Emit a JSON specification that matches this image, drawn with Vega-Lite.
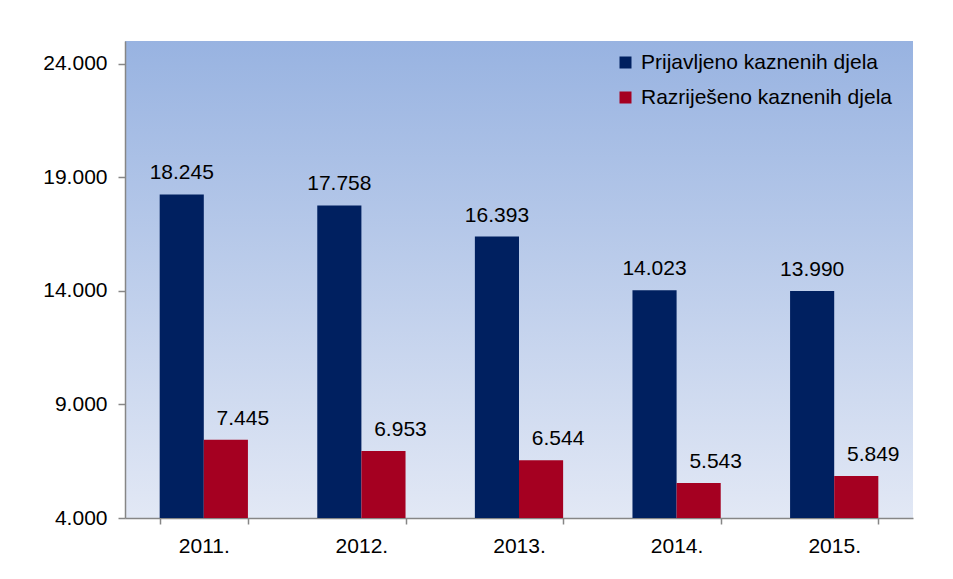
{
  "$schema": "https://vega.github.io/schema/vega-lite/v6.json",
  "width": 788,
  "height": 477,
  "autosize": {"type": "none"},
  "padding": {"left": 125, "top": 41, "right": 40, "bottom": 61},
  "background": "white",
  "config": {
    "font": "Liberation Sans",
    "locale": {"number": {"decimal": ",", "thousands": ".", "grouping": [3], "currency": ["", ""]}},
    "view": {
      "stroke": null,
      "fill": {
        "gradient": "linear", "x1": 0, "y1": 0, "x2": 0, "y2": 1,
        "stops": [{"offset": 0, "color": "#98b3e1"}, {"offset": 1, "color": "#e2e8f5"}]
      }
    }
  },
  "data": {
    "values": [
      {"year": "2011.", "series": "Prijavljeno kaznenih djela", "value": 18245},
      {"year": "2011.", "series": "Razriješeno kaznenih djela", "value": 7445},
      {"year": "2012.", "series": "Prijavljeno kaznenih djela", "value": 17758},
      {"year": "2012.", "series": "Razriješeno kaznenih djela", "value": 6953},
      {"year": "2013.", "series": "Prijavljeno kaznenih djela", "value": 16393},
      {"year": "2013.", "series": "Razriješeno kaznenih djela", "value": 6544},
      {"year": "2014.", "series": "Prijavljeno kaznenih djela", "value": 14023},
      {"year": "2014.", "series": "Razriješeno kaznenih djela", "value": 5543},
      {"year": "2015.", "series": "Prijavljeno kaznenih djela", "value": 13990},
      {"year": "2015.", "series": "Razriješeno kaznenih djela", "value": 5849}
    ]
  },
  "encoding": {
    "x": {
      "field": "year", "type": "nominal", "sort": null,
      "scale": {"paddingInner": 0.44, "paddingOuter": 0.22},
      "axis": {
        "title": null, "labelAngle": 0, "tickBand": "extent", "tickSize": 6,
        "domainColor": "#868686", "tickColor": "#868686", "domainWidth": 1.5, "tickWidth": 1.5,
        "labelFontSize": 21, "labelColor": "#000000", "labelPadding": 11
      }
    },
    "xOffset": {"field": "series", "type": "nominal", "sort": ["Prijavljeno kaznenih djela", "Razriješeno kaznenih djela"]},
    "y": {
      "field": "value", "type": "quantitative",
      "scale": {"domain": [4000, 25000], "zero": false, "nice": false},
      "axis": {
        "title": null, "values": [4000, 9000, 14000, 19000, 24000], "format": ",d", "grid": false,
        "tickSize": 7, "labelPadding": 11,
        "domainColor": "#868686", "tickColor": "#868686", "domainWidth": 1.5, "tickWidth": 1.5,
        "labelFontSize": 21, "labelColor": "#000000"
      }
    }
  },
  "layer": [
    {
      "mark": {"type": "bar", "clip": true},
      "encoding": {
        "color": {
          "field": "series", "type": "nominal",
          "scale": {"domain": ["Prijavljeno kaznenih djela", "Razriješeno kaznenih djela"], "range": ["#002060", "#a50021"]},
          "legend": {
            "title": null, "orient": "none", "legendX": 490, "legendY": 11,
            "symbolType": "square", "symbolSize": 144, "symbolStrokeWidth": 0,
            "labelFontSize": 21, "labelColor": "#000000", "labelOffset": 5, "rowPadding": 13, "labelLimit": 400
          }
        }
      }
    },
    {
      "transform": [{"filter": "datum.series === 'Prijavljeno kaznenih djela'"}],
      "mark": {"type": "text", "fontSize": 21, "dy": -15, "baseline": "alphabetic", "color": "#000000"},
      "encoding": {"text": {"field": "value", "type": "quantitative", "format": ",d"}}
    },
    {
      "transform": [{"filter": "datum.series === 'Razriješeno kaznenih djela'"}],
      "mark": {"type": "text", "fontSize": 21, "dy": -15, "dx": 17, "baseline": "alphabetic", "color": "#000000"},
      "encoding": {"text": {"field": "value", "type": "quantitative", "format": ",d"}}
    }
  ]
}
